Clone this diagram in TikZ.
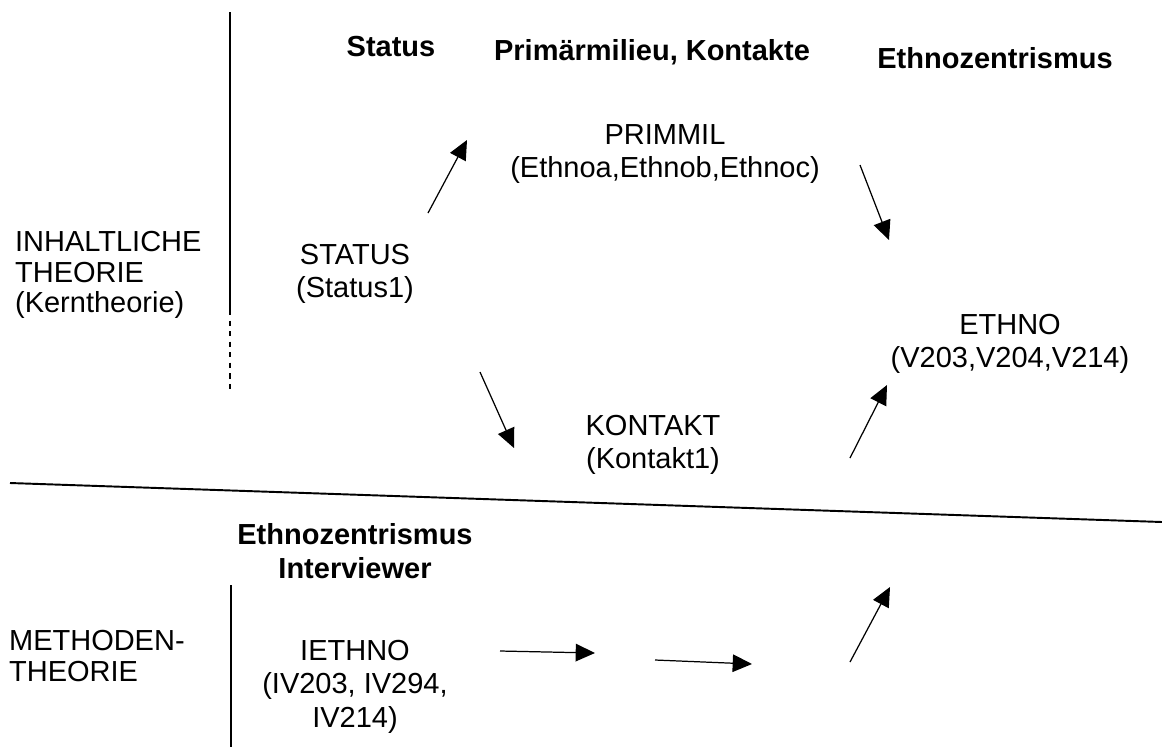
\documentclass[tikz,border=0pt]{standalone}
\usepackage{fontspec}
\setmainfont{Liberation Sans}
\usetikzlibrary{positioning,arrows.meta}

\tikzset{
  var/.style={align=center, inner sep=1pt, font=\fontsize{16.5}{19}\selectfont},
  head/.style={align=center, inner sep=1pt, font=\bfseries\fontsize{16.5}{19}\selectfont},
  side/.style={align=left, anchor=west, inner sep=1pt, font=\fontsize{16.5}{17.5}\selectfont},
  arr/.style={-{Triangle[length=11pt,width=10pt]}, line width=0.7pt},
  rule/.style={line width=1.1pt},
}

\begin{document}
\begin{tikzpicture}
  \useasboundingbox (0,0) rectangle (23.24,-14.94);

  % Column headings
  \node[head] (hstatus) at (7.82,-0.94) {Status};
  \node[head] (hprim) at (13.04,-1.04) {Prim\"armilieu, Kontakte};
  \node[head] (hethno) at (19.90,-1.16) {Ethnozentrismus};

  % Row labels
  \node[side] (inhalt) at (0.26,-5.50) {INHALTLICHE\\THEORIE\\(Kerntheorie)};
  \node[side] (methode) at (0.14,-13.12) {METHODEN-\\THEORIE};

  % Core theory
  \node[var] (status) at (7.10,-5.48) {STATUS\\(Status1)};
  \node[var] (primmil) at (13.30,-3.08) {PRIMMIL\\(Ethnoa,Ethnob,Ethnoc)};
  \node[var] (kontakt) at (13.06,-8.90) {KONTAKT\\(Kontakt1)};
  \node[var] (ethno) at (20.20,-6.88) {ETHNO\\(V203,V204,V214)};

  % Method theory
  \node[head] (hinter) at (7.10,-11.02) {Ethnozentrismus\\Interviewer};
  \node[var, below=1.15cm of hinter] (iethno) {IETHNO\\(IV203, IV294,\\IV214)};

  % Frame lines
  \coordinate (vtop) at (4.60,-0.24);
  \coordinate (vmid) at (4.60,-6.20);
  \coordinate (vend) at (4.60,-7.80);
  \coordinate (vlow) at (4.62,-11.70);
  \coordinate (vbot) at (4.62,-14.94);
  \coordinate (hleft) at (0.20,-9.66);
  \coordinate (hright) at (23.24,-10.44);
  \draw[rule] (vtop) -- (vmid);
  \draw[rule, dashed] (vmid) -- (vend);
  \draw[rule] (vlow) -- (vbot);
  \draw[rule] (hleft) -- (hright);

  % Arrow ends
  \coordinate (status-up) at (8.56,-4.26);
  \coordinate (primmil-in) at (9.34,-2.80);
  \coordinate (primmil-out) at (17.20,-3.30);
  \coordinate (ethno-top) at (17.78,-4.80);
  \coordinate (status-down) at (9.60,-7.44);
  \coordinate (kontakt-in) at (10.28,-8.96);
  \coordinate (kontakt-out) at (17.00,-9.16);
  \coordinate (ethno-bot) at (17.74,-7.70);
  \coordinate (iethno-out) at (10.00,-13.02);
  \coordinate (step1) at (11.90,-13.06);
  \coordinate (step2s) at (13.10,-13.20);
  \coordinate (step2) at (15.04,-13.28);
  \coordinate (step3s) at (17.00,-13.24);
  \coordinate (step3) at (17.80,-11.74);

  \draw[arr] (status-up) -- (primmil-in);
  \draw[arr] (primmil-out) -- (ethno-top);
  \draw[arr] (status-down) -- (kontakt-in);
  \draw[arr] (kontakt-out) -- (ethno-bot);
  \draw[arr] (iethno-out) -- (step1);
  \draw[arr] (step2s) -- (step2);
  \draw[arr] (step3s) -- (step3);
\end{tikzpicture}
\end{document}
